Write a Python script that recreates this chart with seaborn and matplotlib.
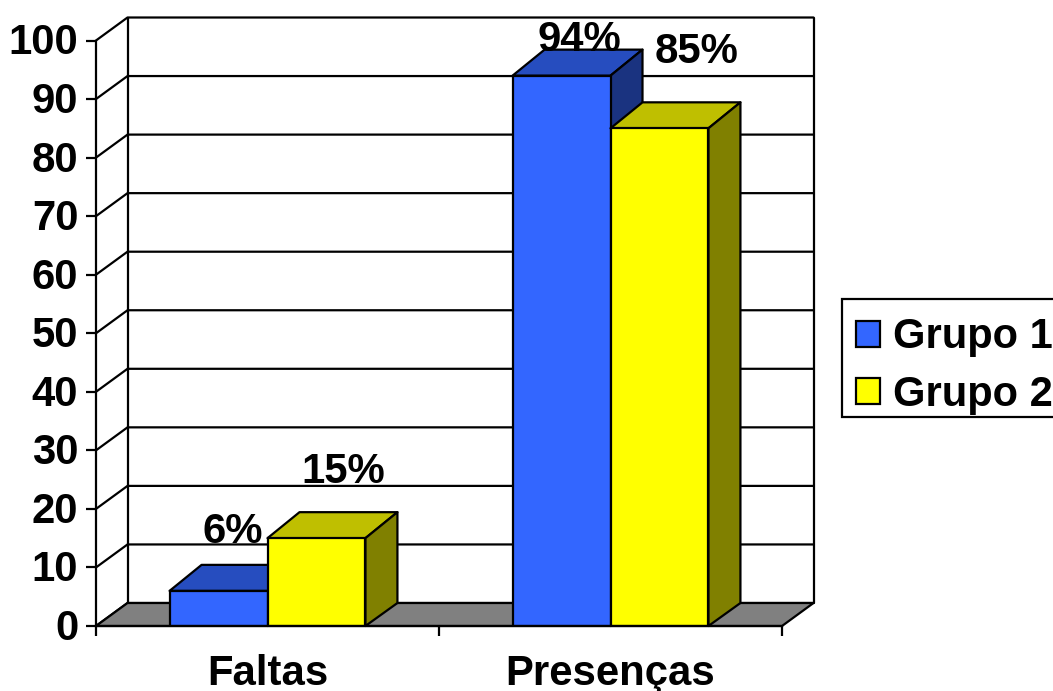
import numpy as np
import pandas as pd
import matplotlib
matplotlib.use("Agg")
import matplotlib.pyplot as plt
from matplotlib.colors import to_rgb
from matplotlib.patches import Polygon, Rectangle
from matplotlib.transforms import IdentityTransform, Affine2D
import seaborn as sns

# data
categories = ["Faltas", "Presenças"]
grupos = ["Grupo 1", "Grupo 2"]
grupo1 = [6, 94]
grupo2 = [15, 85]
rotulos1 = ["6%", "94%"]
rotulos2 = ["15%", "85%"]
yticks = list(range(0, 101, 10))

# layout (pixels of the 1053x691 canvas)
W, H = 1053, 691
L, R, T, B = 96, 782, 40.5, 626
DEPTH_X, DEPTH_Y = 31.5, 23
BAR_DX, BAR_TOP_DY, BAR_BOT_DY = 32, 26, 23
FS = 30.2
LW = 1.6
COLORS = ["#3366FF", "#FFFF00"]
LABEL_OFFSETS = {0: [(14, 48), (18, 25)], 1: [(27, 55), (37, 65)]}

sns.set_theme(style="white")
plt.rcParams["font.family"] = ["Liberation Sans", "DejaVu Sans"]
plt.rcParams["font.weight"] = "bold"
plt.rcParams["text.color"] = "black"

df = pd.DataFrame({
    "categoria": categories * 2,
    "valor": grupo1 + grupo2,
    "grupo": [grupos[0]] * 2 + [grupos[1]] * 2,
})

fig = plt.figure(figsize=(W / 100, H / 100), dpi=100, facecolor="white")
ax = fig.add_axes([L / W, 1 - B / H, (R - L) / W, (B - T) / H])
ax.patch.set_alpha(0)

sns.barplot(data=df, x="categoria", y="valor", hue="grupo", palette=COLORS,
            width=0.571, gap=0, saturation=1, edgecolor="black", linewidth=LW,
            ax=ax, zorder=4)
handles, labels = ax.get_legend_handles_labels()
ax.get_legend().remove()
ax.set_xlim(-0.5, 1.5)
ax.set_ylim(0, 100)
ax.set_xlabel("")
ax.set_ylabel("")

ident = IdentityTransform()


def poly(points, fc, z, lw=LW):
    ax.add_patch(Polygon(points, closed=True, facecolor=fc, edgecolor="black",
                         linewidth=lw, transform=ident, clip_on=False, zorder=z,
                         joinstyle="round"))


def line(xs, ys, z=1.5):
    ax.plot(xs, ys, color="black", lw=LW, transform=ident, clip_on=False,
            zorder=z, solid_capstyle="round")


# walls and floor derived from the axes scale
to_px = ax.transData.transform
x0, y0 = to_px((-0.5, 0))
x1, _ = to_px((1.5, 0))
poly([(x0, y0), (x1, y0), (x1 + DEPTH_X, y0 + DEPTH_Y), (x0 + DEPTH_X, y0 + DEPTH_Y)],
     "#808080", 2)
for t in yticks:
    _, yp = to_px((-0.5, t))
    line([x0, x0 + DEPTH_X, x1 + DEPTH_X], [yp, yp + DEPTH_Y, yp + DEPTH_Y])
_, ytop = to_px((-0.5, 100))
line([x0 + DEPTH_X, x0 + DEPTH_X], [y0 + DEPTH_Y, ytop + DEPTH_Y])
line([x1 + DEPTH_X, x1 + DEPTH_X], [y0 + DEPTH_Y, ytop + DEPTH_Y])

# the bars' depth, derived from the bars themselves
for g, container in enumerate(ax.containers):
    rotulos = [rotulos1, rotulos2][g]
    base = np.array(to_rgb(COLORS[g]))
    for i, bar in enumerate(container):
        bar.set_zorder(4 + 2 * g)
        xa, ya = to_px((bar.get_x(), 0))
        xb, yb = to_px((bar.get_x() + bar.get_width(), bar.get_height()))
        poly([(xa, yb), (xb, yb), (xb + BAR_DX, yb + BAR_TOP_DY), (xa + BAR_DX, yb + BAR_TOP_DY)],
             tuple(base * 0.75), 3 + 2 * g)
        poly([(xb, ya), (xb, yb), (xb + BAR_DX, yb + BAR_TOP_DY), (xb + BAR_DX, ya + BAR_BOT_DY)],
             tuple(base * 0.5), 3 + 2 * g)
        dx, dy = LABEL_OFFSETS[g][i]
        ax.annotate(rotulos[i], xy=(bar.get_x() + bar.get_width() / 2, bar.get_height()),
                    xytext=(dx, dy), textcoords="offset pixels", ha="center", va="baseline",
                    fontsize=FS, fontweight="bold", color="black", zorder=10,
                    annotation_clip=False)

# axes
for s in ["top", "right"]:
    ax.spines[s].set_visible(False)
for s in ["left", "bottom"]:
    ax.spines[s].set_linewidth(LW)
    ax.spines[s].set_color("black")
    ax.spines[s].set_zorder(8)
ax.set_yticks(yticks)
ax.set_yticklabels([str(t) for t in yticks], fontsize=FS, fontweight="bold", color="black")
ax.tick_params(axis="y", which="major", left=True, length=7.2, width=LW, pad=5.5, color="black")
for lab in ax.get_yticklabels():
    lab.set_transform(lab.get_transform() + Affine2D().translate(0, 1.5))
ax.set_xticks([-0.5, 0.5, 1.5])
ax.set_xticklabels([])
ax.set_xticks([0, 1], minor=True)
ax.set_xticklabels(categories, minor=True, fontsize=FS, fontweight="bold", color="black")
ax.tick_params(axis="x", which="major", bottom=True, length=7.2, width=LW, color="black")
ax.tick_params(axis="x", which="minor", bottom=False, length=0, pad=20)

# legend: its frame runs past the right edge of the canvas, as in the reference
ax.add_patch(Rectangle((842, H - 417), 240, 118, facecolor="white", edgecolor="black",
                       linewidth=LW, transform=ident, clip_on=False, zorder=11))
leg = ax.legend(handles, labels, loc="upper left",
                bbox_to_anchor=(845 / W, 1 - 306 / H), bbox_transform=fig.transFigure,
                prop={"size": 30, "weight": "bold"}, frameon=False,
                handlelength=0.58, handleheight=0.58, handletextpad=0.31,
                borderpad=0.27, borderaxespad=0, labelspacing=0.42)
leg.set_zorder(12)

fig.savefig("out.png", dpi=100, facecolor="white")
